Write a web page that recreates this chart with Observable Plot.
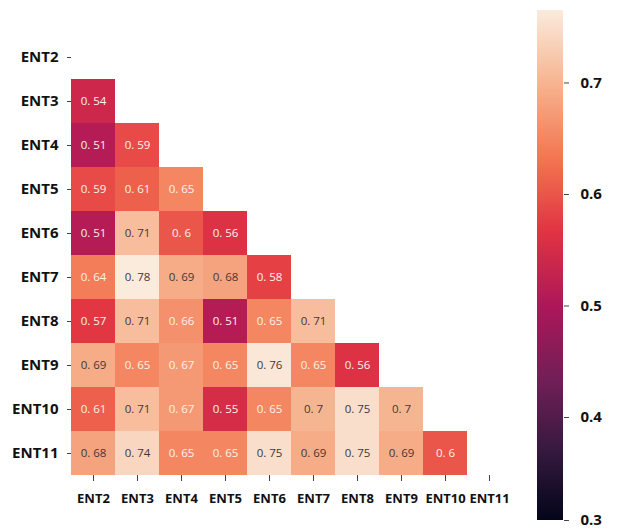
<!DOCTYPE html>
<html>
<head>
<meta charset="utf-8">
<script src="https://cdn.jsdelivr.net/npm/d3@7"></script>
<script src="https://cdn.jsdelivr.net/npm/@observablehq/plot@0.6"></script>
<style>
  html, body { margin: 0; padding: 0; background: #fff; }
  #wrap { position: relative; width: 617px; height: 532px; }
  #wrap svg { position: absolute; left: 0; top: 0; }
  .lbl text { font-family: "Open Sans", sans-serif; font-weight: 700; }
</style>
</head>
<body>
<div id="wrap"></div>
<script>
const labels = ["ENT2","ENT3","ENT4","ENT5","ENT6","ENT7","ENT8","ENT9","ENT10","ENT11"];
const rowENT3  = [0.54];
const rowENT4  = [0.51, 0.59];
const rowENT5  = [0.59, 0.61, 0.65];
const rowENT6  = [0.51, 0.71, 0.6, 0.56];
const rowENT7  = [0.64, 0.78, 0.69, 0.68, 0.58];
const rowENT8  = [0.57, 0.71, 0.66, 0.51, 0.65, 0.71];
const rowENT9  = [0.69, 0.65, 0.67, 0.65, 0.76, 0.65, 0.56];
const rowENT10 = [0.61, 0.71, 0.67, 0.55, 0.65, 0.7, 0.75, 0.7];
const rowENT11 = [0.68, 0.74, 0.65, 0.65, 0.75, 0.69, 0.75, 0.69, 0.6];
const colorTicks = [0.3, 0.4, 0.5, 0.6, 0.7];
const colorMin = 0.3, colorMax = 0.765;
// seaborn "rocket" colormap stops
const rocket = ["#03051a", "#35193e", "#701f57", "#ad1759", "#e13342", "#f37651", "#f6b48f", "#faebdd"];

const rows = {ENT3: rowENT3, ENT4: rowENT4, ENT5: rowENT5, ENT6: rowENT6, ENT7: rowENT7,
              ENT8: rowENT8, ENT9: rowENT9, ENT10: rowENT10, ENT11: rowENT11};
const table = [];
for (const [r, vals] of Object.entries(rows)) {
  vals.forEach((v, i) => table.push({row: r, col: labels[i], value: v}));
}
const interp = d3.piecewise(d3.interpolateRgb, rocket);
const colorOpts = {type: "linear", domain: [colorMin, colorMax], interpolate: () => interp, clamp: true};
const fmt = v => d3.format(".2~f")(v).replace(".", ". ");

const heat = Plot.plot({
  width: 617, height: 532,
  marginLeft: 71, marginRight: 106, marginTop: 35, marginBottom: 57,
  style: {background: "transparent"},
  x: {domain: labels, padding: 0, label: null},
  y: {domain: labels, padding: 0, label: null},
  color: colorOpts,
  marks: [
    Plot.cell(table, {x: "col", y: "row", fill: "value", inset: 0, shapeRendering: "crispEdges"}),
    Plot.text(table, {x: "col", y: "row", text: d => fmt(d.value),
      fill: d => d.value >= 0.675 ? "#45343a" : "#fdf1ec",
      fontSize: 11.5, fontFamily: "Open Sans, sans-serif"}),
    Plot.axisY({tickSize: 4, tickPadding: 9, fontSize: 15, className: "lbl", stroke: "#444", fill: "#111", label: null}),
    Plot.axisX({tickSize: 6, tickPadding: 12, fontSize: 13, className: "lbl", stroke: "#444", fill: "#111", label: null})
  ]
});

const steps = d3.range(colorMin, colorMax, 0.001);
const bar = Plot.plot({
  width: 617, height: 532,
  marginLeft: 537, marginRight: 54, marginTop: 10, marginBottom: 12,
  style: {background: "transparent"},
  x: {type: "linear", domain: [0, 1], axis: null},
  y: {type: "linear", domain: [0.3, 0.4, colorMax], range: [520, 417, 10]},
  color: colorOpts,
  marks: [
    Plot.rect(steps, {x1: 0, x2: 1, y1: d => d, y2: d => Math.min(d + 0.0015, colorMax), fill: d => d,
      shapeRendering: "crispEdges"}),
    Plot.axisY({anchor: "right", ticks: colorTicks, tickFormat: d3.format(".1f"), tickSize: 5, tickPadding: 12,
      fontSize: 15, className: "lbl", stroke: "#444", fill: "#111", label: null})
  ]
});

const wrap = document.getElementById("wrap");
wrap.appendChild(heat);
wrap.appendChild(bar);
</script>
</body>
</html>
